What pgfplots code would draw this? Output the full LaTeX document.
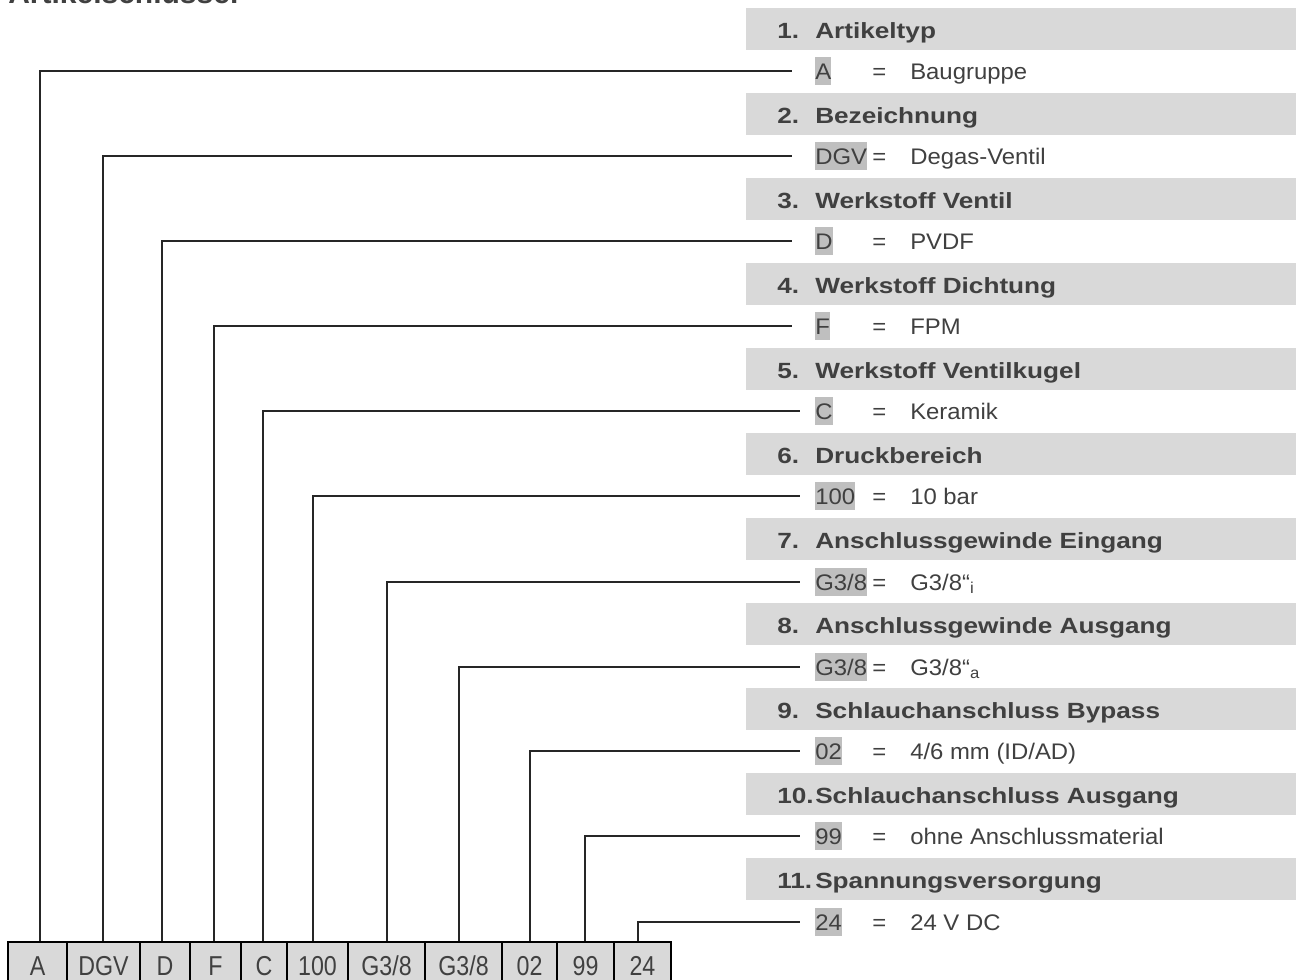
\documentclass[border=0pt]{standalone}
\usepackage{pgfplots}
\pgfplotsset{compat=1.18}
\usepackage{fontspec}
\setmainfont{Liberation Sans}
\newfontfamily\hdrfont{Liberation Sans}[FakeStretch=1.19]
\newfontfamily\regfont{Liberation Sans}[FakeStretch=1.06]
\newfontfamily\boxfont{Liberation Sans}[FakeStretch=0.85]
\definecolor{band}{HTML}{D9D9D9}
\definecolor{hl}{HTML}{BFBFBF}
\definecolor{txt}{HTML}{404040}
\definecolor{ln}{HTML}{262626}
% header: band top y, number, title
\newcommand\hdr[3]{%
  \addplot[fill=band, draw=none] coordinates {(746,#1) (1300,#1) (1300,#1+42) (746,#1+42)} -- cycle;
  \node[anchor=base west, inner sep=0pt, text=txt, font=\hdrfont\bfseries\fontsize{16.5}{18}\selectfont] at (axis cs:777,#1+30) {#2};
  \node[anchor=base west, inner sep=0pt, text=txt, font=\hdrfont\bfseries\fontsize{16.5}{18}\selectfont] at (axis cs:815,#1+30) {#3};
}
% row: vertical x, row y, line end x, code, description
\newcommand\row[5]{%
  \addplot[line width=0.95pt, color=ln] coordinates {(#1,942) (#1,#2) (#3,#2)};
  \node[anchor=base west, inner sep=0pt, text height=16.5pt, text depth=4.5pt, fill=hl, text=txt, font=\regfont\fontsize{16.9}{18}\selectfont] at (axis cs:815,#2+8) {#4};
  \node[anchor=base west, inner sep=0pt, text=txt, font=\regfont\fontsize{16.9}{18}\selectfont] at (axis cs:872,#2+8) {=};
  \node[anchor=base west, inner sep=0pt, text=txt, font=\regfont\fontsize{16.9}{18}\selectfont] at (axis cs:910,#2+8) {#5};
}
% bottom box: left x, right x, code
\newcommand\cell[3]{%
  \addplot[fill=band, draw=black, line width=1.5pt] coordinates {(#1,942) (#2,942) (#2,1000) (#1,1000)} -- cycle;
  \node[anchor=base, inner sep=0pt, text=txt, font=\boxfont\fontsize{20.5}{22}\selectfont] at (axis cs:{(#1+#2)/2},975) {#3};
}
\begin{document}
\begin{tikzpicture}
\begin{axis}[name=ax, at={(0,0)}, anchor=south west,
  width=972pt, height=734.25pt, scale only axis,
  xmin=0, xmax=1296, ymin=0, ymax=979, y dir=reverse,
  hide axis, clip=true]
% title (cut off at the top edge)
\node[anchor=base west, inner sep=0pt, text=txt, font=\bfseries\fontsize{22.5}{24}\selectfont] at (axis cs:8,3) {Artikelschlüssel};
% header bands
\hdr{8}{1.}{Artikeltyp}
\hdr{93}{2.}{Bezeichnung}
\hdr{178}{3.}{Werkstoff Ventil}
\hdr{263}{4.}{Werkstoff Dichtung}
\hdr{348}{5.}{Werkstoff Ventilkugel}
\hdr{433}{6.}{Druckbereich}
\hdr{518}{7.}{Anschlussgewinde Eingang}
\hdr{603}{8.}{Anschlussgewinde Ausgang}
\hdr{688}{9.}{Schlauchanschluss Bypass}
\hdr{773}{10.}{Schlauchanschluss Ausgang}
\hdr{858}{11.}{Spannungsversorgung}
% connector rows
\row{40}{71}{792}{A}{Baugruppe}
\row{103}{156}{792}{DGV}{Degas-Ventil}
\row{162}{241}{792}{D}{PVDF}
\row{214}{326}{792}{F}{FPM}
\row{263}{411}{800}{C}{Keramik}
\row{313}{496}{800}{100}{10 bar}
\row{387}{582}{800}{G3/8}{G3/8“\textsubscript{i}}
\row{459}{667}{800}{G3/8}{G3/8“\textsubscript{a}}
\row{530}{751}{800}{02}{4/6 mm (ID/AD)}
\row{585}{836}{800}{99}{ohne Anschlussmaterial}
\row{638}{922}{800}{24}{24 V DC}
% bottom code boxes
\cell{8}{67}{A}
\cell{67}{140}{DGV}
\cell{140}{190}{D}
\cell{190}{241}{F}
\cell{241}{287}{C}
\cell{287}{348}{100}
\cell{348}{425}{G3/8}
\cell{425}{502}{G3/8}
\cell{502}{557}{02}
\cell{557}{614}{99}
\cell{614}{671}{24}
\end{axis}
\pgfresetboundingbox
\path[use as bounding box] (ax.south west) rectangle (ax.north east);
\end{tikzpicture}
\end{document}
